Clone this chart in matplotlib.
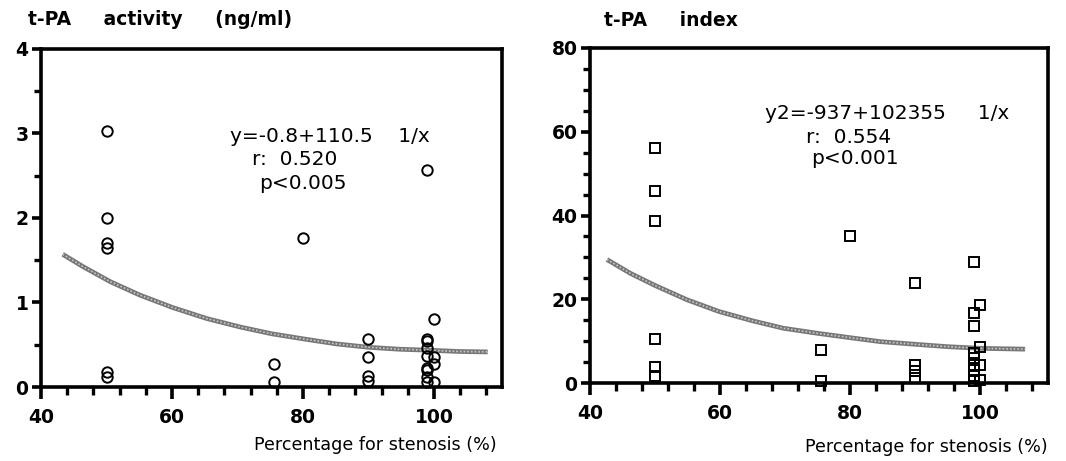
#!/usr/bin/env python
"""t-PA activity / t-PA index vs. percentage of stenosis (out.png)."""

import matplotlib

matplotlib.use("Agg")
import matplotlib.pyplot as plt
from matplotlib.ticker import MultipleLocator

# Left panel: t-PA activity (ng/ml), open circles
act_x = [50, 50, 50, 50, 50, 50,
         75.5, 75.5,
         80,
         90, 90, 90, 90,
         99, 99, 99, 99, 99, 99, 99, 99, 99,
         100, 100, 100, 100]
act_y = [3.03, 2.0, 1.7, 1.65, 0.18, 0.12,
         0.27, 0.06,
         1.76,
         0.57, 0.35, 0.13, 0.07,
         2.57, 0.57, 0.55, 0.46, 0.37, 0.22, 0.2, 0.12, 0.06,
         0.8, 0.35, 0.27, 0.06]

# fitted curve
act_fit_x = [43.3, 46.5, 50.6, 55.1, 60.1, 65.3, 70.4, 75.2, 80, 85.1, 90, 94.7, 99.3, 103.9, 108.2]
act_fit_y = [1.57, 1.42, 1.245, 1.087, 0.94, 0.81, 0.71, 0.63, 0.57, 0.51, 0.47, 0.447, 0.435, 0.42, 0.415]

# Right panel: t-PA index, open squares
idx_x = [50, 50, 50, 50, 50, 50,
         75.5, 75.5,
         80,
         90, 90, 90, 90,
         99, 99, 99, 99, 99, 99, 99, 99, 99,
         100, 100, 100, 100]
idx_y = [56, 45.8, 38.7, 10.5, 3.8, 1.8,
         7.8, 0.6,
         35,
         24, 4.4, 2.8, 1.2,
         28.8, 16.7, 13.7, 7.2, 6, 4.4, 3.2, 1.6, 0.4,
         18.7, 8.7, 4.4, 0.8]

idx_fit_x = [42.6, 46.2, 50, 54.9, 59.8, 64.9, 69.7, 74.9, 79.7, 84.6, 89.7, 94.9, 100, 106.9]
idx_fit_y = [29.5, 26.2, 23.3, 19.9, 17.1, 14.9, 13.1, 11.9, 10.9, 9.9, 9.3, 8.7, 8.3, 8.1]

plt.rcParams["font.family"] = ["DejaVu Sans"]

fig = plt.figure(figsize=(10.66, 4.61), dpi=100, facecolor="white")
ax1 = fig.add_axes([0.0385, 0.1605, 0.4325, 0.7335])
ax2 = fig.add_axes([0.5535, 0.169, 0.4295, 0.727])


def style_axes(ax, ymax, ymajor, yminor, label_x, label_y):
    ax.set_xlim(40, 110.4)
    ax.set_ylim(0, ymax)
    ax.xaxis.set_major_locator(MultipleLocator(20))
    ax.xaxis.set_minor_locator(MultipleLocator(4))
    ax.yaxis.set_major_locator(MultipleLocator(ymajor))
    ax.yaxis.set_minor_locator(MultipleLocator(yminor))
    for sp in ax.spines.values():
        sp.set_linewidth(2.6)
    ax.tick_params(axis="x", which="major", direction="out", length=8.5, width=2.6,
                   labelsize=13.5, pad=6.5)
    ax.tick_params(axis="x", which="minor", direction="out", length=5.5, width=2.4)
    ax.tick_params(axis="y", which="major", direction="out", length=6.5, width=2.6,
                   labelsize=13.5, pad=2.5)
    ax.tick_params(axis="y", which="minor", direction="out", length=5, width=2.4)
    for lab in ax.get_xticklabels() + ax.get_yticklabels():
        lab.set_fontweight("bold")
    ax.text(label_x, label_y, "Percentage for stenosis (%)", transform=ax.transAxes,
            ha="right", va="center", fontsize=12.6)


style_axes(ax1, 4, 1, 0.5, 0.989, -0.172)
ax1.plot(act_fit_x, act_fit_y, color="#777777", lw=3.4, solid_capstyle="butt", zorder=2)
ax1.plot(act_fit_x, act_fit_y, color="#c8c8c8", lw=1.2, ls=(0, (1, 1.2)), zorder=2)
ax1.plot(act_x, act_y, "o", ms=7.5, mfc="none", mec="black", mew=1.4, zorder=3, clip_on=False)
ax1.text(68.85, 2.96, "y=-0.8+110.5    1/x", ha="left", va="center", fontsize=14.5)
ax1.text(72.2, 2.69, "r:  0.520", ha="left", va="center", fontsize=14.5)
ax1.text(73.3, 2.41, "p<0.005", ha="left", va="center", fontsize=14.5)
fig.text(0.026, 0.957, "t-PA     activity     (ng/ml)", ha="left", va="center",
         fontsize=13.5, fontweight="bold")

style_axes(ax2, 80, 20, 5, 1.0, -0.191)
ax2.plot(idx_fit_x, idx_fit_y, color="#777777", lw=3.4, solid_capstyle="butt", zorder=2)
ax2.plot(idx_fit_x, idx_fit_y, color="#c8c8c8", lw=1.2, ls=(0, (1, 1.2)), zorder=2)
ax2.plot(idx_x, idx_y, "s", ms=7.2, mfc="none", mec="black", mew=1.4, zorder=3, clip_on=False)
ax2.text(66.9, 64.4, "y2=-937+102355     1/x", ha="left", va="center", fontsize=14.5)
ax2.text(73.2, 58.7, "r:  0.554", ha="left", va="center", fontsize=14.5)
ax2.text(74.0, 53.5, "p<0.001", ha="left", va="center", fontsize=14.5)
fig.text(0.567, 0.955, "t-PA     index", ha="left", va="center",
         fontsize=13.5, fontweight="bold")

fig.savefig("out.png", dpi=100, facecolor="white")
plt.close(fig)
